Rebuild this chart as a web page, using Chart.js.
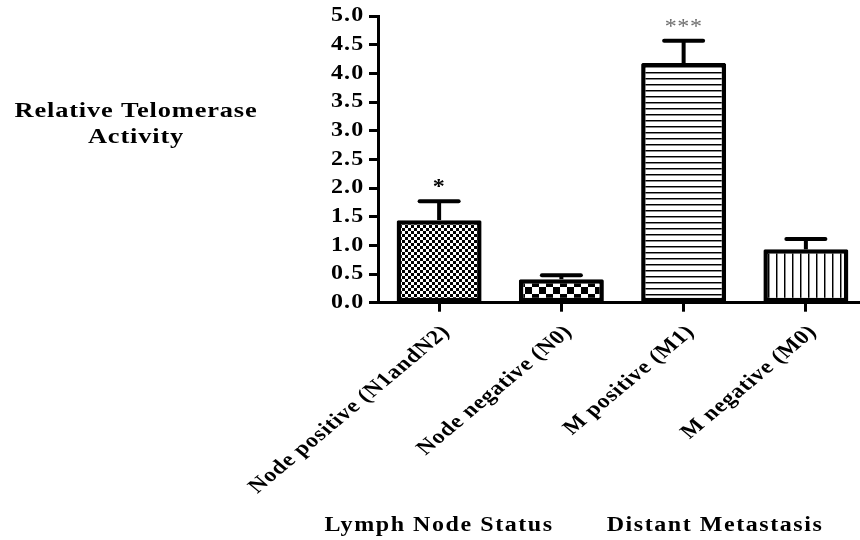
<!DOCTYPE html>
<html>
<head>
<meta charset="utf-8">
<title>Relative Telomerase Activity</title>
<script src="https://cdn.jsdelivr.net/npm/chart.js@4/dist/chart.umd.min.js"></script>
<style>
  html, body { margin: 0; padding: 0; background: #fff; overflow: hidden; }
  #wrap { position: relative; width: 867px; height: 540px; }
  canvas { display: block; }
</style>
</head>
<body>
<div id="wrap"><canvas id="chart" width="867" height="540"></canvas></div>
<script>
// ---- data ----
const categories = ['Node positive (N1andN2)', 'Node negative (N0)', 'M positive (M1)', 'M negative (M0)'];
const meanActivity = [1.44, 0.41, 4.18, 0.93];
const semActivity = [0.33, 0.07, 0.39, 0.18];
const significance = ['*', '', '***', ''];
const yTickLabels = ['0.0', '0.5', '1.0', '1.5', '2.0', '2.5', '3.0', '3.5', '4.0', '4.5', '5.0'];
const yTitleLines = ['Relative Telomerase', 'Activity'];
const groupTitles = ['Lymph Node Status', 'Distant Metastasis'];

// ---- styling ----
const FONT = "'Liberation Serif', 'Times New Roman', serif";
const STRETCH = 1.2;          // horizontal widening applied to every text run
const canvas = document.getElementById('chart');
const ctx = canvas.getContext('2d');

function tile(w, h, paint) {
  const c = document.createElement('canvas');
  c.width = w; c.height = h;
  const g = c.getContext('2d');
  g.fillStyle = '#fff';
  g.fillRect(0, 0, w, h);
  paint(g);
  return ctx.createPattern(c, 'repeat');
}

// fine checks, coarse checks, horizontal rules, vertical rules
const fills = [
  tile(6, 6, g => { g.fillStyle = '#000'; g.fillRect(0, 0, 3, 3); g.fillRect(3, 3, 3, 3); }),
  tile(14, 14, g => { g.fillStyle = '#000'; g.fillRect(0, 0, 7, 7); g.fillRect(7, 7, 7, 7); }),
  tile(6, 6, g => { g.fillStyle = '#000'; g.fillRect(0, 0, 6, 1); g.fillStyle = '#888'; g.fillRect(0, 1, 6, 1); }),
  tile(8, 8, g => { g.fillStyle = '#000'; g.fillRect(0, 0, 1, 8); g.fillStyle = '#888'; g.fillRect(1, 0, 1, 8); })
];

// draws one text run, widened horizontally around its anchor
function wideText(c, text, x, y, opts) {
  c.save();
  c.font = opts.font;
  c.letterSpacing = opts.spacing || '0px';
  c.fillStyle = opts.color || '#000';
  c.textAlign = opts.align || 'center';
  c.textBaseline = opts.baseline || 'alphabetic';
  c.translate(x, y);
  c.scale(STRETCH, 1);
  if (opts.angle) c.rotate(opts.angle);
  c.fillText(text, 0, opts.dy || 0);
  c.restore();
}

// tick labels for both axes, placed from the scales' own tick positions
const tickLabels = {
  id: 'tickLabels',
  afterDraw(chart) {
    const c = chart.ctx;
    const { x, y } = chart.scales;
    y.ticks.forEach((t, i) => {
      wideText(c, yTickLabels[i], x.left - 13.5, y.getPixelForValue(t.value), {
        font: 'bold 20px ' + FONT, spacing: '1px', align: 'right', baseline: 'middle'
      });
    });
    const top = y.bottom + 20;
    categories.forEach((label, i) => {
      wideText(c, label, x.getPixelForValue(i), top, {
        font: 'bold 20px ' + FONT, spacing: '0.6px', align: 'right', angle: -Math.PI / 4, dy: 14
      });
    });
  }
};

// upper SEM whiskers and significance stars
const errorBars = {
  id: 'errorBars',
  afterDatasetsDraw(chart) {
    const c = chart.ctx;
    const y = chart.scales.y;
    const meta = chart.getDatasetMeta(0);
    c.save();
    c.strokeStyle = '#000';
    meta.data.forEach((bar, i) => {
      const base = y.getPixelForValue(meanActivity[i]);
      const top = y.getPixelForValue(meanActivity[i] + semActivity[i]);
      c.lineWidth = 4;
      c.lineCap = 'butt';
      c.beginPath();
      c.moveTo(bar.x, base);
      c.lineTo(bar.x, top);
      c.stroke();
      c.lineCap = 'round';
      c.beginPath();
      c.moveTo(bar.x - 19.5, top);
      c.lineTo(bar.x + 19.5, top);
      c.stroke();
      const mark = significance[i];
      if (mark) {
        const triple = mark.length > 1;
        wideText(c, mark, bar.x, top - 8, {
          font: (triple ? 'normal' : 'bold') + ' 20px ' + FONT,
          spacing: '0.5px',
          color: triple ? '#6e6e6e' : '#000'
        });
      }
    });
    c.restore();
  }
};

// axis titles
const titles = {
  id: 'titles',
  afterDraw(chart) {
    const c = chart.ctx;
    wideText(c, yTitleLines[0], 136, 116.5, { font: 'bold 22px ' + FONT, spacing: '0.7px' });
    wideText(c, yTitleLines[1], 136, 143, { font: 'bold 22px ' + FONT, spacing: '0.7px' });
    wideText(c, groupTitles[0], 439, 531, { font: 'bold 20px ' + FONT, spacing: '1.3px' });
    wideText(c, groupTitles[1], 715, 531, { font: 'bold 20px ' + FONT, spacing: '1.3px' });
  }
};

new Chart(ctx, {
  type: 'bar',
  data: {
    labels: categories,
    datasets: [{
      data: meanActivity,
      backgroundColor: fills,
      borderColor: '#000',
      borderWidth: 4.5,
      borderSkipped: false,
      borderRadius: 1.5,
      barPercentage: 0.695,
      categoryPercentage: 1
    }]
  },
  options: {
    responsive: false,
    animation: false,
    devicePixelRatio: 1,
    layout: { padding: { top: 16, right: 0, bottom: 0, left: 0 } },
    plugins: { legend: { display: false }, tooltip: { enabled: false } },
    scales: {
      x: {
        offset: true,
        grid: { drawOnChartArea: false, drawTicks: true, offset: false, tickLength: 9, tickWidth: 3, tickColor: '#000' },
        border: { display: true, color: '#000', width: 3 },
        ticks: { display: false, autoSkip: false },
        afterFit(scale) { scale.height = 237.3; }
      },
      y: {
        min: 0,
        max: 5,
        afterBuildTicks(scale) { scale.ticks = yTickLabels.map(s => ({ value: parseFloat(s) })); },
        grid: { drawOnChartArea: false, drawTicks: true, tickLength: 9, tickWidth: 3, tickColor: '#000' },
        border: { display: true, color: '#000', width: 3 },
        ticks: { display: false },
        afterFit(scale) { scale.width = 378; }
      }
    }
  },
  plugins: [errorBars, tickLabels, titles]
});
</script>
</body>
</html>
